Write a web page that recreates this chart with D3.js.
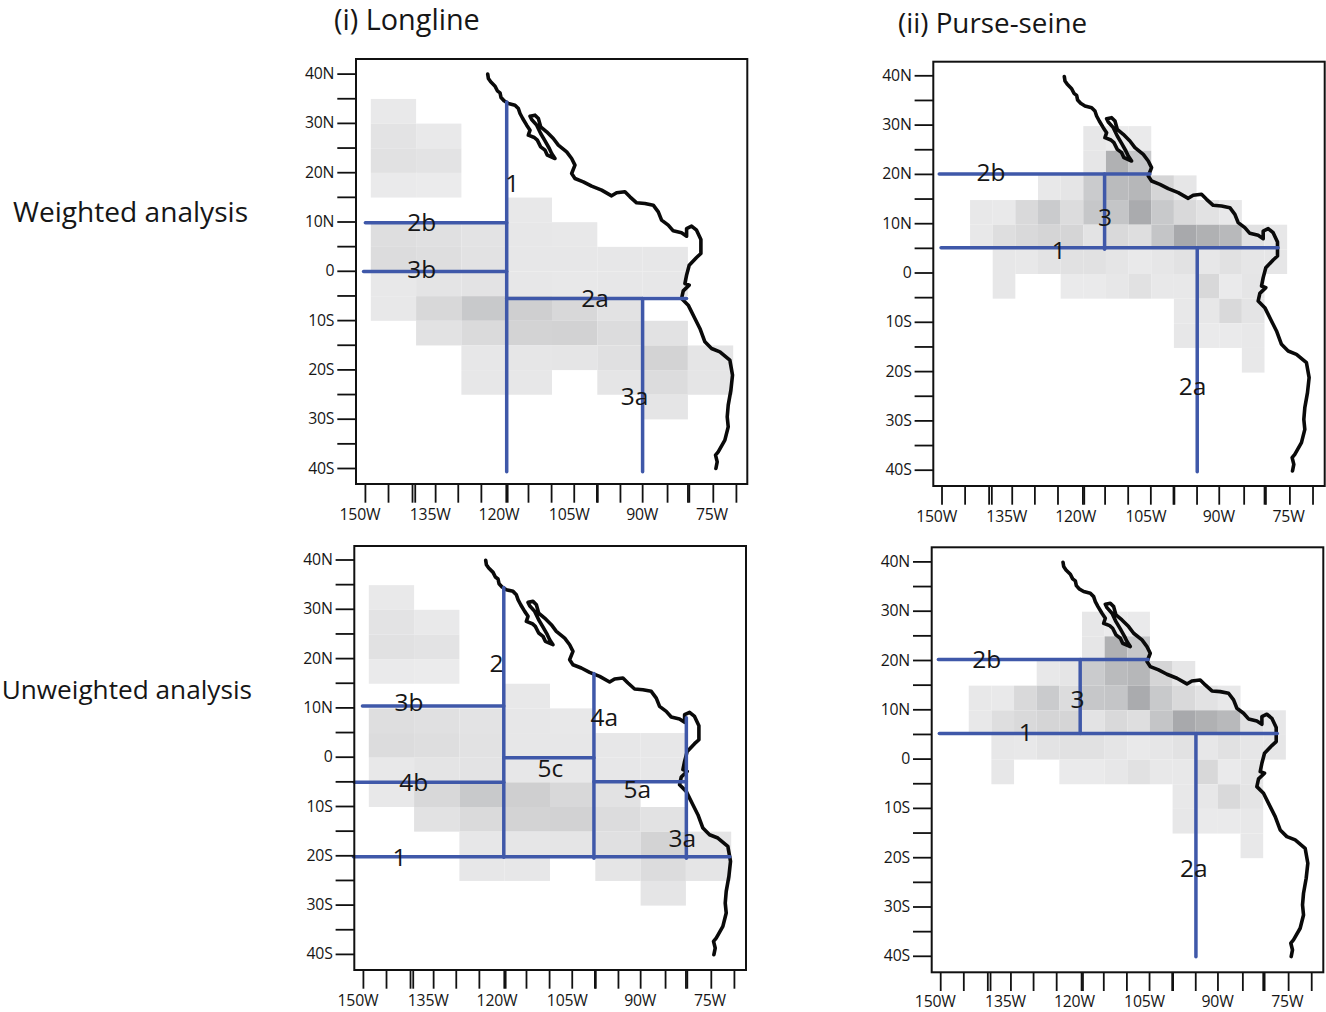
<!DOCTYPE html>
<html>
<head>
<meta charset="utf-8">
<script src="https://cdnjs.cloudflare.com/ajax/libs/d3/7.8.5/d3.min.js"></script>
<style>
body { margin: 0; background: #fff; }
text { font-family: "Open Sans", sans-serif; fill: #161616; }
.axis text { font-size: 15.8px; letter-spacing: -0.2px; }
.region { font-size: 24.5px; text-anchor: middle; dominant-baseline: central; }
</style>
</head>
<body>
<div id="chart"></div>
<script>
// grid cell values, 0 = no cell
var longlineLons = [150, 140, 130, 120, 110, 100, 90, 80];
var longlineLats = [35, 30, 25, 20, 15, 10, 5, 0, -5, -10, -15, -20, -25];
var longlineValues = [
  [22, 0, 0, 0, 0, 0, 0, 0],
  [28, 22, 0, 0, 0, 0, 0, 0],
  [30, 28, 0, 0, 0, 0, 0, 0],
  [21, 20, 0, 0, 0, 0, 0, 0],
  [0, 0, 0, 23, 0, 0, 0, 0],
  [33, 31, 28, 24, 23, 0, 0, 0],
  [35, 33, 29, 24, 24, 24, 24, 0],
  [23, 27, 28, 24, 23, 24, 24, 0],
  [23, 39, 54, 48, 39, 29, 0, 0],
  [0, 29, 37, 44, 45, 35, 29, 0],
  [0, 0, 24, 25, 26, 31, 44, 26],
  [0, 0, 24, 24, 0, 26, 35, 26],
  [0, 0, 0, 0, 0, 0, 26, 0]
];

var purseLons = [145, 140, 135, 130, 125, 120, 115, 110, 105, 100, 95, 90, 85, 80];
var purseLats = [30, 25, 20, 15, 10, 5, 0, -5, -10, -15];
var purseValues = [
  [0, 0, 0, 0, 0, 24, 20, 21, 0, 0, 0, 0, 0, 0],
  [0, 0, 0, 0, 0, 25, 78, 56, 0, 0, 0, 0, 0, 0],
  [0, 0, 0, 23, 26, 52, 68, 72, 42, 25, 0, 0, 0, 0],
  [23, 22, 38, 52, 35, 56, 58, 84, 54, 38, 29, 23, 0, 0],
  [23, 33, 38, 42, 42, 28, 38, 33, 58, 86, 78, 70, 30, 24],
  [0, 24, 23, 28, 30, 30, 26, 22, 25, 29, 24, 30, 25, 25],
  [0, 24, 0, 0, 21, 21, 24, 30, 23, 23, 39, 21, 26, 0],
  [0, 0, 0, 0, 0, 0, 0, 0, 0, 23, 24, 38, 27, 0],
  [0, 0, 0, 0, 0, 0, 0, 0, 0, 24, 21, 21, 23, 0],
  [0, 0, 0, 0, 0, 0, 0, 0, 0, 0, 0, 0, 23, 0]
];

// coastline
var coastLon = [124.19, 124.04, 123.53, 122.57, 122.06, 121.47, 121.25, 120.59, 119.63, 118.16, 117.43, 117.06, 116.47, 115.59, 114.85, 115.22, 113.9, 113.24, 112.5, 111.54, 111.03, 109.34, 110.07, 110.59, 111.54, 112.5, 113.38, 114.49, 114.85, 113.75, 113.01, 112.5, 111.18, 109.71, 108.6, 106.76, 105.66, 104.93, 105.66, 104.93, 103.09, 101.25, 99.04, 96.84, 95.74, 93.9, 92.79, 91.32, 89.49, 87.65, 86.54, 85.81, 84.34, 83.24, 81.4, 80.29, 80.29, 79.19, 78.09, 77.13, 77.13, 78.09, 79.71, 80.29, 80.66, 79.71, 81.03, 81.4, 79.93, 78.46, 77.35, 76.25, 74.78, 72.94, 70.74, 70.15, 70.51, 71.1, 71.32, 71.1, 71.84, 73.31, 73.9, 73.53, 73.82];
var coastLat = [40.03, 39.15, 38.47, 37.59, 36.65, 36.24, 35.29, 34.62, 34.08, 33.74, 33.06, 32.05, 31.03, 29.68, 28.67, 27.65, 27.18, 26.64, 25.29, 24.61, 23.6, 22.92, 23.94, 24.95, 26.5, 27.99, 29.68, 30.83, 31.51, 31.71, 31.03, 29.34, 28.33, 26.98, 25.63, 24.27, 22.92, 21.57, 19.88, 18.86, 18.19, 17.31, 16.5, 15.35, 15.96, 16.16, 15.15, 13.93, 13.79, 13.46, 12.1, 10.41, 9.4, 8.25, 7.84, 7.17, 8.72, 9.2, 8.38, 6.49, 3.65, 2.84, 1.28, -0.74, -2.43, -2.77, -3.92, -5.48, -6.83, -9.53, -11.56, -14.27, -15.62, -16.29, -17.99, -21.03, -24.07, -27.11, -29.48, -31.51, -34.21, -36.58, -37.25, -38.61, -39.96];

// ticks
var latTicks = [40, 35, 30, 25, 20, 15, 10, 5, 0, -5, -10, -15, -20, -25, -30, -35, -40];
var lonTicks = [151.3, 146.2, 140.9, 140.3, 135.8, 130.8, 125.7, 120.2, 119.9, 115.3, 110.2, 105.2, 100.2, 100, 95, 90.1, 84.6, 80.1, 79.8, 74.5, 69.4];
var lonLabelPos = [152.5, 137, 121.8, 106.3, 90.2, 74.8];
var lonLabels = ["150W", "135W", "120W", "105W", "90W", "75W"];

// boundaries: [lon1, lat1, lon2, lat2]
var weightedLonglineLines = [[120, 34.4, 120, -40.6], [151.2, 9.9, 120, 9.9], [151.6, 0, 120, 0], [120, -5.5, 80.3, -5.5], [90, -5.5, 90, -40.6]];
var weightedPurseLines = [[151.8, 20.3, 105.3, 20.3], [115.3, 20.3, 115.3, 5], [151.4, 5.3, 77, 5.3], [94.85, 5.3, 94.85, -40.1]];
var unweightedLonglineLines = [[120.2, 34.5, 120.2, -20.2], [151.4, 10.5, 120.2, 10.5], [153.2, -5, 120.2, -5], [100.3, 17.1, 100.3, -20.4], [120.2, 0, 100.3, 0], [100.3, -4.9, 79.9, -4.9], [79.9, 8.1, 79.9, -20.4], [153.4, -20.1, 70.3, -20.1]];
var unweightedPurseLines = [[151.7, 20.3, 105.4, 20.3], [120.4, 20.3, 120.4, 5.3], [151.5, 5.3, 76.9, 5.3], [94.85, 5.3, 94.85, -40]];

// region labels: [text, lon, lat]
var weightedLonglineRegions = [["1", 118.75, 18], ["2b", 138.75, 10.2], ["3b", 138.75, 0.7], ["2a", 100.5, -5.2], ["3a", 91.8, -25.1]];
var weightedPurseRegions = [["2b", 140.4, 20.8], ["3", 115.2, 11.7], ["1", 125.4, 5], ["2a", 95.9, -22.7]];
var unweightedLonglineRegions = [["2", 121.8, 19.4], ["3b", 141.1, 11.3], ["4a", 98, 8.3], ["5c", 109.9, -1.9], ["4b", 140.1, -4.9], ["5a", 90.7, -6.3], ["3a", 80.8, -16.1], ["1", 143.2, -20]];
var unweightedPurseRegions = [["2b", 141, 20.6], ["3", 121, 12.3], ["1", 132.4, 5.7], ["2a", 95.3, -21.9]];

var svg = d3.select("#chart")
  .append("svg")
  .attr("width", 1326)
  .attr("height", 1012)
  .style("display", "block");

var cellColor = d3.scaleLinear().domain([0, 100]).range(["#ffffff", "#9a9b9e"]);
var blue = "#3f58a9";

function formatLat(d) {
  if (d == 0) return "0";
  if (d % 10 != 0) return "";
  return Math.abs(d) + (d > 0 ? "N" : "S");
}

function drawPanel(p) {
  var x = d3.scaleLinear().domain([120, 70]).range([p.x120, p.x120 + 226.5]);
  var y = d3.scaleLinear().domain([0, 40]).range([p.y0, p.y0 - 197.2]);

  var g = svg.append("g");

  // cells
  var cells = [];
  p.lats.forEach(function(lat, i) {
    p.lons.forEach(function(lon, j) {
      if (p.values[i][j] > 0) cells.push({ lon: lon, lat: lat, v: p.values[i][j] });
    });
  });

  g.selectAll("rect.cell")
    .data(cells)
    .enter()
    .append("rect")
    .attr("class", "cell")
    .attr("x", function(d) { return x(d.lon); })
    .attr("y", function(d) { return y(d.lat); })
    .attr("width", function(d) { return x(d.lon - p.step) - x(d.lon); })
    .attr("height", function(d) { return y(d.lat - 5) - y(d.lat); })
    .attr("fill", function(d) { return cellColor(d.v); });

  // coast
  var line = d3.line()
    .x(function(d, i) { return x(coastLon[i]); })
    .y(function(d, i) { return y(coastLat[i]); });

  g.append("path")
    .attr("d", line(coastLon))
    .attr("fill", "none")
    .attr("stroke", "#0a0a0a")
    .attr("stroke-width", 3.6)
    .attr("stroke-linejoin", "round")
    .attr("stroke-linecap", "round");

  // boundaries
  g.selectAll("line.boundary")
    .data(p.lines)
    .enter()
    .append("line")
    .attr("class", "boundary")
    .attr("x1", function(d) { return x(d[0]); })
    .attr("y1", function(d) { return y(d[1]); })
    .attr("x2", function(d) { return x(d[2]); })
    .attr("y2", function(d) { return y(d[3]); })
    .attr("stroke", blue)
    .attr("stroke-width", 3.5)
    .attr("stroke-linecap", "round");

  g.selectAll("text.region")
    .data(p.regions)
    .enter()
    .append("text")
    .attr("class", "region")
    .attr("x", function(d) { return x(d[1]); })
    .attr("y", function(d) { return y(d[2]); })
    .text(function(d) { return d[0]; });

  // frame
  g.append("rect")
    .attr("x", p.left)
    .attr("y", p.top)
    .attr("width", p.right - p.left)
    .attr("height", p.bottom - p.top)
    .attr("fill", "none")
    .attr("stroke", "#111")
    .attr("stroke-width", 2);

  // axes
  var yAxis = d3.axisLeft(y)
    .tickValues(latTicks)
    .tickSize(18.7)
    .tickPadding(3)
    .tickFormat(formatLat);

  var yG = g.append("g")
    .attr("class", "axis")
    .attr("transform", "translate(" + p.left + "," + p.tickDy + ")")
    .call(yAxis);

  var xAxis = d3.axisBottom(x)
    .tickValues(lonTicks)
    .tickSize(18.7)
    .tickFormat("");

  var xG = g.append("g")
    .attr("class", "axis")
    .attr("transform", "translate(0," + p.bottom + ")")
    .call(xAxis);

  var labelAxis = d3.axisBottom(x)
    .tickValues(lonLabelPos)
    .tickSize(0)
    .tickPadding(p.labelPad)
    .tickFormat(function(d, i) { return lonLabels[i]; });

  var labelG = g.append("g")
    .attr("class", "axis")
    .attr("transform", "translate(0," + p.bottom + ")")
    .call(labelAxis);

  [yG, xG, labelG].forEach(function(a) {
    a.select(".domain").remove();
    a.selectAll("line").attr("stroke", "#111").attr("stroke-width", 1.8);
  });
}

drawPanel({ x120: 506.7, y0: 271.5, left: 356, right: 747.3, top: 59, bottom: 484, tickDy: -0.7, labelPad: 25,
  lons: longlineLons, lats: longlineLats, values: longlineValues, step: 10,
  lines: weightedLonglineLines, regions: weightedLonglineRegions });

drawPanel({ x120: 1083.3, y0: 274, left: 933.3, right: 1324.7, top: 61.7, bottom: 486, tickDy: -1.5, labelPad: 25,
  lons: purseLons, lats: purseLats, values: purseValues, step: 5,
  lines: weightedPurseLines, regions: weightedPurseRegions });

drawPanel({ x120: 504.7, y0: 757.7, left: 354.3, right: 746, top: 546, bottom: 970, tickDy: -1, labelPad: 25,
  lons: longlineLons, lats: longlineLats, values: longlineValues, step: 10,
  lines: unweightedLonglineLines, regions: unweightedLonglineRegions });

drawPanel({ x120: 1082, y0: 759.6, left: 931.7, right: 1323.3, top: 547.3, bottom: 972.3, tickDy: -1, labelPad: 23,
  lons: purseLons, lats: purseLats, values: purseValues, step: 5,
  lines: unweightedPurseLines, regions: unweightedPurseRegions });

// headings
function heading(x, y, size, anchor, label) {
  svg.append("text")
    .attr("x", x)
    .attr("y", y)
    .attr("text-anchor", anchor)
    .style("font-size", size + "px")
    .text(label);
}
heading(334, 30, 28.8, "start", "(i) Longline");
heading(898, 33, 27.8, "start", "(ii) Purse-seine");
heading(13, 222, 28.1, "start", "Weighted analysis");
heading(252, 699, 26.2, "end", "Unweighted analysis");
</script>
</body>
</html>
